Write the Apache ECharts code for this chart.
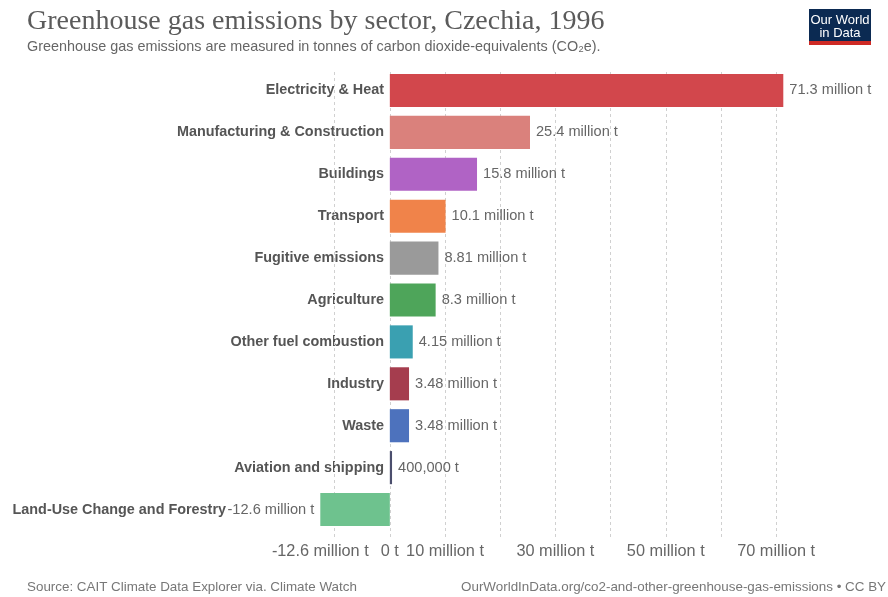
<!DOCTYPE html>
<html>
<head>
<meta charset="utf-8">
<script src="https://cdn.jsdelivr.net/npm/echarts@6/dist/echarts.min.js"></script>
<style>
html,body{margin:0;padding:0;background:#fff;}
#chart{width:888px;height:597px;}
</style>
</head>
<body>
<div id="chart"></div>
<script>
// Data (million tonnes CO2e)
const categories = ['Electricity & Heat','Manufacturing & Construction','Buildings','Transport','Fugitive emissions','Agriculture','Other fuel combustion','Industry','Waste','Aviation and shipping','Land-Use Change and Forestry'];
const values = [71.3, 25.4, 15.8, 10.1, 8.81, 8.3, 4.15, 3.48, 3.48, 0.4, -12.6];
const barColors = ['#d2474c','#da817c','#b063c5','#f0834a','#9a9a9a','#4ea55a','#3aa0b1','#a53d4e','#4d72bd','#4b4e6d','#6ec28e'];
const tickLabels = [-12.6, 0, 10, 30, 50, 70];
const gridLineValues = [-10, 0, 10, 20, 30, 40, 50, 60, 70];

function fmt(v){
  if (v === 0) return '0 t';
  if (Math.abs(v) < 1) return Math.round(v*1e6).toLocaleString('en-US') + ' t';
  return (+v.toFixed(2)) + ' million t';
}

const chart = echarts.init(document.getElementById('chart'), null, {renderer:'canvas'});
const gridLeft = 320.3, gridRight = 888 - 783.3;
const FONT = 'Liberation Sans, Arial, sans-serif';
const option = {
  backgroundColor:'#fff',
  animation:false,
  grid:[
    {left:gridLeft, right:gridRight, top:69.5, bottom:597-530.5, containLabel:false, outerBoundsMode:'none'},
    {left:gridLeft, right:gridRight, top:72, bottom:597-537, containLabel:false, outerBoundsMode:'none'}
  ],
  xAxis:[
    {type:'value', gridIndex:0, min:-12.6, max:71.3,
     axisLine:{show:false}, axisTick:{show:false}, splitLine:{show:false},
     axisLabel:{customValues:tickLabels, formatter:fmt, color:'#666', fontSize:16.3, fontFamily:FONT, margin:13}},
    {type:'value', gridIndex:1, min:-12.6, max:71.3, show:false}
  ],
  yAxis:[
    {type:'category', gridIndex:0, data:categories, inverse:true,
     axisLine:{show:false, onZero:false}, axisTick:{show:false},
     axisLabel:{margin:-63.7, color:'#555', fontWeight:'bold', fontSize:14.4, fontFamily:FONT,
       formatter:function(v){ return v === 'Land-Use Change and Forestry' ? '{neg|'+v+'}' : v; },
       rich:{neg:{padding:[0,158,0,0], color:'#555', fontWeight:'bold', fontSize:14.4, fontFamily:FONT}}}},
    {type:'value', gridIndex:1, min:0, max:1, show:false}
  ],
  series:[
    {type:'line', xAxisIndex:1, yAxisIndex:1, data:[], silent:true,
     markLine:{silent:true, z:1, symbol:['none','none'], label:{show:false},
       lineStyle:{color:'#d0d0d0', type:[3,3], width:1},
       data:gridLineValues.map(v=>({xAxis:v}))}},
    {type:'bar', xAxisIndex:0, yAxisIndex:0, z:3, barCategoryGap:'21%',
     data:values.map((v,i)=>({value:v, itemStyle:{color:barColors[i]},
       label:{position: v<0 ? 'left' : 'right'}})),
     label:{show:true, distance:6, color:'#666', fontSize:14.6, fontFamily:FONT,
       formatter:p=>fmt(p.value)}}
  ],
  graphic:[
    {type:'text', left:27, top:8, style:{text:'Greenhouse gas emissions by sector, Czechia, 1996', fill:'#5b5b5b', font:'28px "Liberation Serif", "Times New Roman", serif'}},
    {type:'text', left:27, top:40, style:{text:'Greenhouse gas emissions are measured in tonnes of carbon dioxide-equivalents (CO₂e).', fill:'#666', font:'14.4px "Liberation Sans", Arial, sans-serif'}},
    {type:'group', left:809, top:9, children:[
      {type:'rect', shape:{x:0,y:0,width:62,height:36}, style:{fill:'#0b2a52'}},
      {type:'rect', shape:{x:0,y:32,width:62,height:4}, style:{fill:'#ce2a25'}},
      {type:'text', x:31, y:11.5, style:{text:'Our World', fill:'#fff', align:'center', verticalAlign:'middle', font:'13px "Liberation Sans Narrow", "Liberation Sans", Arial, sans-serif'}},
      {type:'text', x:31, y:24.5, style:{text:'in Data', fill:'#fff', align:'center', verticalAlign:'middle', font:'13px "Liberation Sans Narrow", "Liberation Sans", Arial, sans-serif'}}
    ]},
    {type:'text', left:27, top:581, style:{text:'Source: CAIT Climate Data Explorer via. Climate Watch', fill:'#777', font:'13.4px "Liberation Sans", Arial, sans-serif'}},
    {type:'text', right:2, top:581, style:{text:'OurWorldInData.org/co2-and-other-greenhouse-gas-emissions • CC BY', fill:'#777', font:'13.4px "Liberation Sans", Arial, sans-serif'}}
  ]
};
chart.setOption(option);
</script>
</body>
</html>
